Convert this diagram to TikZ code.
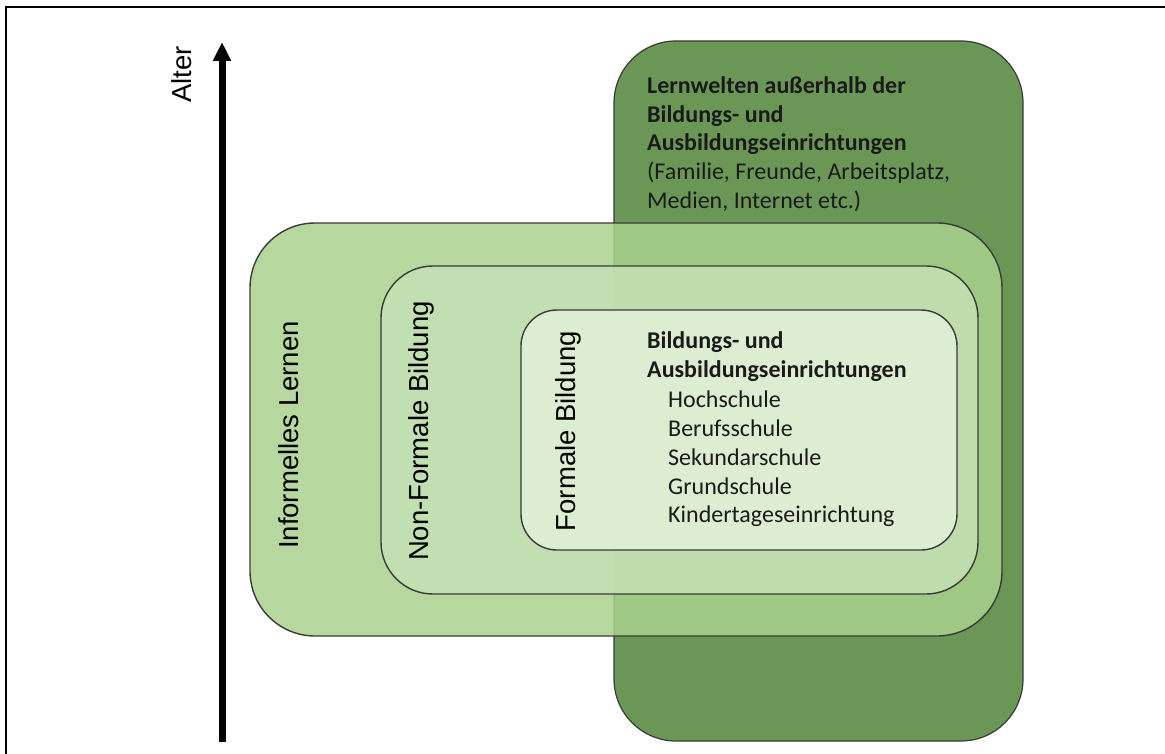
\documentclass[tikz,border=0pt]{standalone}
\usepackage{fontspec}
\setmainfont{Liberation Sans}
\newfontfamily\calfont{Carlito}
\newfontfamily\arifont{Liberation Sans}
\usetikzlibrary{arrows.meta}
\definecolor{gdark}{HTML}{6B9756}
\definecolor{ginf}{HTML}{A9D18E}
\definecolor{gnon}{HTML}{C5E0B4}
\definecolor{gfor}{HTML}{E2F0D9}
\definecolor{edgec}{HTML}{3A3A3A}
\definecolor{txt}{HTML}{1A1A1A}
\begin{document}
\begin{tikzpicture}[x=1pt,y=-1pt,
  box/.style={draw=edgec, line width=1.4pt},
  rotlabel/.style={font=\arifont\fontsize{27.5}{30}\selectfont, rotate=90, anchor=base, inner sep=0pt, text=black},
  boldline/.style={font=\calfont\bfseries\fontsize{24}{29}\selectfont, anchor=base west, inner sep=0pt, text=txt},
  normline/.style={font=\calfont\fontsize{24}{29}\selectfont, anchor=base west, inner sep=0pt, text=txt}]
\useasboundingbox (0,0) rectangle (1165,754);
% frame
\draw[line width=2pt] (6,754) -- (6,7) -- (1165,7);
% age arrow
\coordinate (abot) at (222,742);
\coordinate (atop) at (222,42);
\draw[line width=7pt, -{Triangle[width=17pt,length=19pt]}] (abot) -- (atop);
\node[rotlabel] (alter) at (191,74.5) {Alter};
% boxes
\draw[draw=edgec, line width=1.2pt, fill=gdark, rounded corners=62pt] (614,41) rectangle (1023,741);
\draw[box, fill=ginf, fill opacity=0.85, rounded corners=65pt] (250,223) rectangle (1002,636);
\draw[box, fill=gnon, fill opacity=0.85, rounded corners=52pt] (381,266) rectangle (978,594);
\draw[box, fill=gfor, fill opacity=0.85, rounded corners=36pt] (521,310) rectangle (957,550);
% rotated labels
\node[rotlabel] (inf) at (298,435) {Informelles Lernen};
\node[rotlabel] (non) at (428,431) {Non-Formale Bildung};
\node[rotlabel] (for) at (575,431) {Formale Bildung};
% outside text
\node[boldline] (o1) at (647,93.5) {Lernwelten außerhalb der};
\node[boldline] (o2) at (647,122.5) {Bildungs- und};
\node[boldline] (o3) at (647,151) {Ausbildungseinrichtungen};
\node[normline] (o4) at (647,180) {(Familie, Freunde, Arbeitsplatz,};
\node[normline] (o5) at (647,209) {Medien, Internet etc.)};
% formal text
\node[boldline] (f1) at (647,348) {Bildungs- und};
\node[boldline] (f2) at (647,377) {Ausbildungseinrichtungen};
\node[normline] (f3) at (668,407) {Hochschule};
\node[normline] (f4) at (668,436) {Berufsschule};
\node[normline] (f5) at (668,465) {Sekundarschule};
\node[normline] (f6) at (668,494) {Grundschule};
\node[normline] (f7) at (668,522) {Kindertageseinrichtung};
\end{tikzpicture}
\end{document}
